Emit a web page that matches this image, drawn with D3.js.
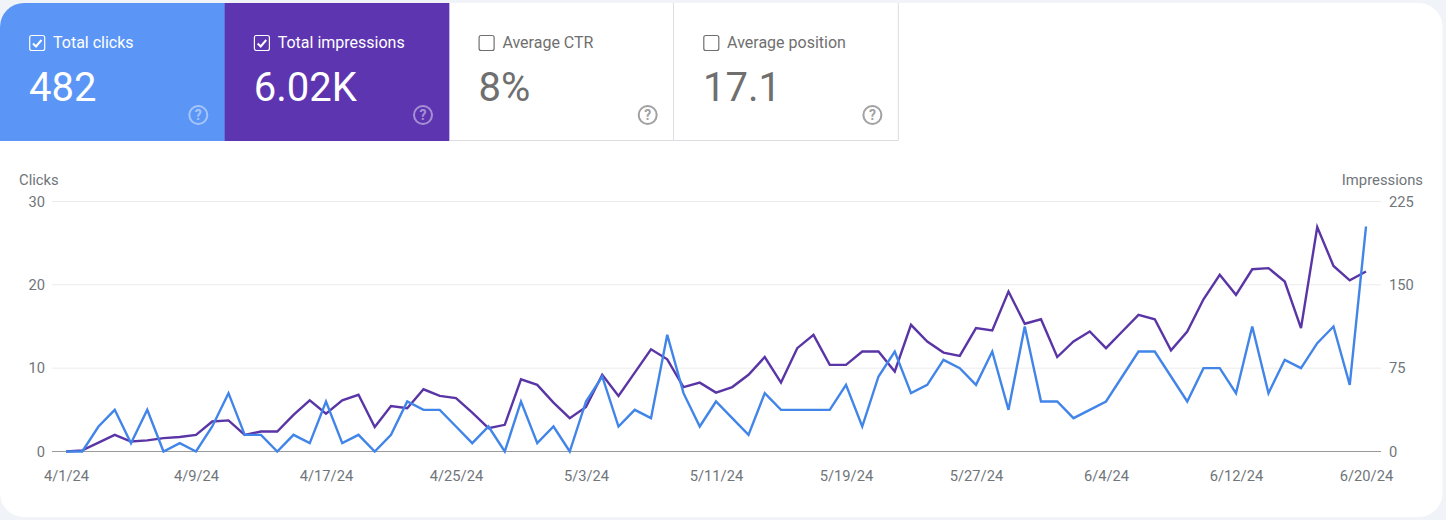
<!DOCTYPE html>
<html>
<head>
<meta charset="utf-8">
<title>Performance</title>
<script src="https://d3js.org/d3.v7.min.js"></script>
<style>
    html, body { margin: 0; padding: 0; background: #f0f4f9; }
    svg { display: block; font-family: Roboto, sans-serif; }
</style>
</head>
<body>
<div id="chart"></div>
<script>
    // tiles above the chart
    const tileLabels = ["Total clicks", "Total impressions", "Average CTR", "Average position"];
    const tileValues = ["482", "6.02K", "8%", "17.1"];
    const tileChecked = [true, true, false, false];

    // daily values, 4/1/24 to 6/20/24
    const clicks = [
        0, 0, 3, 5, 1, 5, 0, 1, 0, 3, 7, 2, 2, 0, 2, 1, 6, 1, 2, 0, 2, 6, 5, 5, 3, 1, 3, 0, 6, 1,
        3, 0, 6, 9, 3, 5, 4, 14, 7, 3, 6, 4, 2, 7, 5, 5, 5, 5, 8, 3, 9, 12, 7, 8, 11, 10, 8, 12, 5, 15, 6,
        6, 4, 5, 6, 9, 12, 12, 9, 6, 10, 10, 7, 15, 7, 11, 10, 13, 15, 8, 27
    ];
    const impressions = [
        0, 1, 8, 15, 9, 10, 12, 13, 15, 27, 28, 15, 18, 18, 33, 46, 34, 46, 51, 22, 41, 39, 56, 50, 48, 35, 21, 24, 65, 60,
        44, 30, 40, 69, 50, 71, 92, 83, 58, 62, 53, 58, 69, 85, 62, 93, 105, 78, 78, 90, 90, 72, 114, 99, 89, 86, 111, 109, 144, 115, 119,
        85, 99, 108, 93, 108, 123, 119, 91, 108, 137, 159, 141, 164, 165, 153, 111, 202, 167, 154, 162
    ];
    const dateTicks = ["4/1/24", "4/9/24", "4/17/24", "4/25/24", "5/3/24", "5/11/24", "5/19/24", "5/27/24", "6/4/24", "6/12/24", "6/20/24"];
    const clickTicks = [0, 10, 20, 30];
    const impressionTicks = [0, 75, 150, 225];

    const clickColor = "#4285e8", impressionColor = "#5a35a6";
    const tileFill = ["#5b96f6", "#5e35b1", "#fff", "#fff"];

    const width = 1446, height = 520;
    const margin = {left: 66, right: 80, top: 201.5, bottom: 68.5};
    const tileW = 224.7, tileTop = 3, tileH = 138;

    const svg = d3.select("#chart").append("svg")
        .attr("width", width)
        .attr("height", height);

    // white card
    const card = {x: 0, y: tileTop, w: 1442.5, h: 514, r: 24};
    svg.append("rect")
        .attr("x", card.x).attr("y", card.y)
        .attr("width", card.w).attr("height", card.h)
        .attr("rx", card.r)
        .attr("fill", "#fff");
    // only the first tile has a round corner
    svg.append("clipPath").attr("id", "tileClip")
        .append("path")
        .attr("d", `M0,${tileTop + card.r} A${card.r},${card.r} 0 0 1 ${card.r},${tileTop} H${tileW * 4 + 1} V${tileTop + tileH} H0 Z`);

    // tiles
    const tiles = svg.append("g").attr("clip-path", "url(#tileClip)")
        .selectAll("g")
        .data(tileLabels)
        .join("g")
        .attr("transform", (d, i) => `translate(${i * tileW}, ${tileTop})`);

    tiles.append("rect")
        .attr("width", tileW + 0.5)
        .attr("height", tileH)
        .attr("fill", (d, i) => tileFill[i]);

    tiles.filter((d, i) => i >= 2).append("path")
        .attr("d", `M${tileW - 0.5},0 V${tileH - 0.5} H0`)
        .attr("fill", "none")
        .attr("stroke", "#dadce0");

    const fg = i => tileChecked[i] ? "#fff" : "#6f6f6f";

    tiles.append("rect")
        .attr("x", 29.7).attr("y", 32.5)
        .attr("width", 15).attr("height", 15)
        .attr("rx", 2)
        .attr("fill", "none")
        .attr("stroke", (d, i) => tileChecked[i] ? "#fff" : "#6f6f6f")
        .attr("stroke-width", 1.2);

    tiles.filter((d, i) => tileChecked[i]).append("path")
        .attr("d", "M33,40.5 L36,43.5 L41.5,37")
        .attr("fill", "none")
        .attr("stroke", "#fff")
        .attr("stroke-width", 2);

    tiles.append("text")
        .attr("x", 53).attr("y", 45)
        .attr("font-size", 16)
        .attr("fill", (d, i) => fg(i))
        .text(d => d);

    tiles.append("text")
        .attr("x", 29).attr("y", 98)
        .attr("font-size", 40)
        .attr("fill", (d, i) => fg(i))
        .text((d, i) => tileValues[i]);

    // help icon
    const help = tiles.append("g")
        .attr("transform", `translate(198.3, 112)`)
        .attr("opacity", (d, i) => tileChecked[i] ? 0.45 : 0.65);
    help.append("circle")
        .attr("r", 9)
        .attr("fill", "none")
        .attr("stroke", (d, i) => fg(i))
        .attr("stroke-width", 2);
    help.append("text")
        .attr("y", 5)
        .attr("text-anchor", "middle")
        .attr("font-size", 14)
        .attr("font-weight", 700)
        .attr("fill", (d, i) => fg(i))
        .text("?");

    // scales
    const parseDate = d3.timeParse("%-m/%-d/%y");
    const formatDate = d3.timeFormat("%-m/%-d/%y");
    const start = parseDate(dateTicks[0]);
    const dateAt = i => d3.timeDay.offset(start, i);

    const x = d3.scaleTime()
        .domain([start, parseDate(dateTicks[dateTicks.length - 1])])
        .range([margin.left, width - margin.right]);
    const yClicks = d3.scaleLinear()
        .domain([0, 30])
        .range([height - margin.bottom, margin.top]);
    const yImpressions = d3.scaleLinear()
        .domain([0, 225])
        .range([height - margin.bottom, margin.top]);

    // grid
    svg.append("g")
        .selectAll("line")
        .data(clickTicks)
        .join("line")
        .attr("x1", 52).attr("x2", 1381)
        .attr("y1", d => yClicks(d)).attr("y2", d => yClicks(d))
        .attr("stroke", d => d === 0 ? "#9a9a9a" : "#ebebeb");

    // axes
    const tickColor = "#70757a";
    const styleAxis = g => {
        g.select(".domain").remove();
        g.selectAll(".tick line").remove();
        g.selectAll("text")
            .attr("fill", tickColor)
            .attr("font-size", 14.7)
            .attr("font-family", "Roboto, sans-serif");
    };

    svg.append("g")
        .attr("transform", `translate(45, 0)`)
        .call(d3.axisLeft(yClicks).tickValues(clickTicks).tickSize(0).tickPadding(0))
        .call(styleAxis);

    svg.append("g")
        .attr("transform", `translate(1389, 0)`)
        .call(d3.axisRight(yImpressions).tickValues(impressionTicks).tickSize(0).tickPadding(0))
        .call(styleAxis);

    svg.append("g")
        .attr("transform", `translate(0, 471)`)
        .call(d3.axisBottom(x).tickValues(dateTicks.map(parseDate)).tickFormat(formatDate).tickSize(0).tickPadding(0))
        .call(styleAxis)
        .selectAll("text").attr("dy", "0.71em");

    svg.append("text")
        .attr("x", 19).attr("y", 185)
        .attr("font-size", 14.8)
        .attr("fill", tickColor)
        .text("Clicks");
    svg.append("text")
        .attr("x", 1423).attr("y", 185)
        .attr("text-anchor", "end")
        .attr("font-size", 14.8)
        .attr("fill", tickColor)
        .text("Impressions");

    // lines
    const lineClicks = d3.line().x((d, i) => x(dateAt(i))).y(d => yClicks(d));
    const lineImpressions = d3.line().x((d, i) => x(dateAt(i))).y(d => yImpressions(d));

    svg.append("path")
        .attr("d", lineImpressions(impressions))
        .attr("fill", "none")
        .attr("stroke", impressionColor)
        .attr("stroke-width", 2.4);
    svg.append("path")
        .attr("d", lineClicks(clicks))
        .attr("fill", "none")
        .attr("stroke", clickColor)
        .attr("stroke-width", 2.4);
</script>
</body>
</html>
